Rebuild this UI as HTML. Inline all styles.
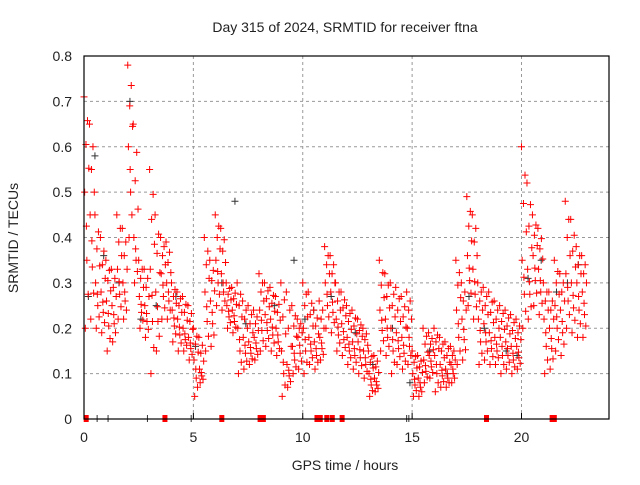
<!DOCTYPE html>
<html><head><meta charset="utf-8"><style>
body{margin:0;background:#fff;}
svg text{font-family:"Liberation Sans",sans-serif;fill:#222;}
</style></head><body>
<svg id="chart" width="640" height="480">
<text x="345" y="32" font-size="14" text-anchor="middle">Day 315 of 2024, SRMTID for receiver ftna</text>
<text x="345" y="470" font-size="14" text-anchor="middle">GPS time / hours</text>
<text transform="translate(18,238) rotate(-90)" font-size="14" text-anchor="middle">SRMTID / TECUs</text>
<g id="grid"></g><g id="axes"></g><g id="marks"></g>
<rect x="84" y="56" width="525" height="363" fill="none" stroke="#000" stroke-width="1.2"/>
</svg>
<script>
const xTicks=[0,5,10,15,20];
const yTicks=[0,0.1,0.2,0.3,0.4,0.5,0.6,0.7,0.8];
const yTickLabels=["0","0.1","0.2","0.3","0.4","0.5","0.6","0.7","0.8"];
const step=0.25;
const hiVals=[0.71,0.65,0.45,0.40,0.35,0.33,0.45,0.42,0.78,0.65,0.35,0.33,0.55,0.45,0.40,0.39,0.30,0.28,0.27,0.25,0.20,0.18,0.40,0.35,0.45,0.42,0.30,0.29,0.30,0.26,0.25,0.24,0.32,0.30,0.29,0.27,0.30,0.28,0.25,0.22,0.30,0.28,0.24,0.26,0.38,0.36,0.30,0.28,0.25,0.24,0.22,0.20,0.15,0.14,0.35,0.32,0.30,0.29,0.27,0.28,0.15,0.14,0.20,0.19,0.20,0.18,0.17,0.16,0.35,0.30,0.49,0.45,0.30,0.29,0.28,0.26,0.25,0.24,0.23,0.22,0.60,0.52,0.45,0.42,0.30,0.28,0.35,0.32,0.48,0.44,0.38,0.36];
const midVals=[0.50,0.45,0.30,0.28,0.26,0.25,0.33,0.30,0.60,0.40,0.27,0.25,0.33,0.28,0.32,0.30,0.24,0.22,0.20,0.18,0.13,0.11,0.28,0.26,0.35,0.32,0.25,0.24,0.20,0.18,0.17,0.18,0.24,0.23,0.22,0.20,0.15,0.12,0.16,0.18,0.20,0.18,0.17,0.18,0.30,0.28,0.22,0.21,0.18,0.17,0.17,0.15,0.10,0.09,0.24,0.22,0.20,0.19,0.18,0.20,0.10,0.09,0.13,0.14,0.14,0.12,0.11,0.12,0.24,0.22,0.36,0.33,0.22,0.21,0.19,0.18,0.18,0.17,0.16,0.16,0.35,0.33,0.36,0.33,0.22,0.20,0.25,0.24,0.32,0.30,0.30,0.28];
const loVals=[0.20,0.22,0.20,0.19,0.15,0.17,0.22,0.22,0.40,0.30,0.20,0.18,0.10,0.15,0.22,0.22,0.17,0.15,0.15,0.13,0.05,0.08,0.15,0.16,0.25,0.24,0.20,0.19,0.10,0.11,0.12,0.13,0.15,0.16,0.15,0.14,0.05,0.07,0.10,0.11,0.10,0.12,0.11,0.13,0.20,0.19,0.15,0.14,0.12,0.11,0.10,0.09,0.05,0.06,0.15,0.14,0.10,0.12,0.11,0.12,0.05,0.05,0.08,0.09,0.06,0.07,0.07,0.08,0.12,0.13,0.25,0.22,0.12,0.13,0.12,0.12,0.10,0.11,0.10,0.11,0.20,0.22,0.25,0.23,0.10,0.11,0.15,0.14,0.20,0.19,0.18,0.18];
const blackX=[0.2,0.5,0.9,1.6,2.1,2.6,3.3,4.2,5.1,6.3,6.9,7.4,8.7,9.6,10.1,10.5,11.3,12.4,13.2,14.1,14.9,15.8,16.6,17.6,18.3,19.3,19.8,20.3,20.9,21.6,22.1,22.6];
const blackY=[0.27,0.58,0.36,0.30,0.70,0.22,0.25,0.27,0.16,0.30,0.48,0.21,0.25,0.35,0.22,0.24,0.27,0.19,0.12,0.20,0.08,0.15,0.10,0.27,0.20,0.15,0.14,0.31,0.35,0.28,0.30,0.34];
const zeroRedX=[0.1,3.7,6.3,8.05,8.2,10.65,10.8,11.1,11.35,11.8,18.4,21.4,21.5];
const zeroBlackX=[0.6,1.1,2.9,4.9,14.75,14.85];
const X=h=>84+h*(525/24), Y=v=>419-v*(363/0.8);
const NS="http://www.w3.org/2000/svg";
function mk(tag,attrs,parent){const e=document.createElementNS(NS,tag);for(const k in attrs)e.setAttribute(k,attrs[k]);document.getElementById(parent).appendChild(e);return e;}
xTicks.forEach(t=>{
  if(t>0){const g=mk('line',{x1:X(t),x2:X(t),y1:56,y2:419,stroke:'#999','stroke-dasharray':'3,3'},'grid');
  
  }
  const tk=mk('line',{x1:X(t),x2:X(t),y1:419,y2:413,stroke:'#000'},'axes');
  
  
  const tx=mk('text',{x:X(t),y:442,'font-size':14,'text-anchor':'middle'},'axes');tx.textContent=t;
  
  
});
yTicks.forEach((t,i)=>{
  if(t>0&&t<0.8){const g=mk('line',{x1:84,x2:609,y1:Y(t),y2:Y(t),stroke:'#999','stroke-dasharray':'3,3'},'grid');
  
  }
  const tx=mk('text',{x:72,y:Y(t)+5,'font-size':14,'text-anchor':'end'},'axes');tx.textContent=yTickLabels[i];
  
  
});
function plus(h,v,col){const x=X(h),y=Y(v);
  const p=mk('path',{d:`M${x-3.5},${y}H${x+3.5}M${x},${y-3.5}V${y+3.5}`,stroke:col,'stroke-width':1,fill:'none'},'marks');
  
  }
blackX.forEach((h,i)=>plus(h,blackY[i],'#333'));
hiVals.forEach((hv,i)=>{
  const m=midVals[i], lo=loVals[i], t=i*step;
  plus(t,hv,'#f00');plus(t+0.03,m,'#f00');plus(t+0.06,lo,'#f00');
  plus(t+0.09,(hv+m)/2,'#f00');plus(t+0.13,(m+lo)/2,'#f00');
  plus(t+0.16,(3*hv+m)/4,'#f00');plus(t+0.19,(m+3*lo)/4,'#f00');
  plus(t+0.22,(hv+3*m)/4,'#f00');plus(t+0.11,(3*m+lo)/4,'#f00');
});
zeroRedX.forEach(h=>{const r=mk('rect',{x:X(h)-2.5,y:415,width:5,height:7,fill:'#f00'},'marks');
  
  });
zeroBlackX.forEach(h=>{const l=mk('line',{x1:X(h),x2:X(h),y1:415,y2:422,stroke:'#333'},'marks');
  
  });
</script>
</body></html>
